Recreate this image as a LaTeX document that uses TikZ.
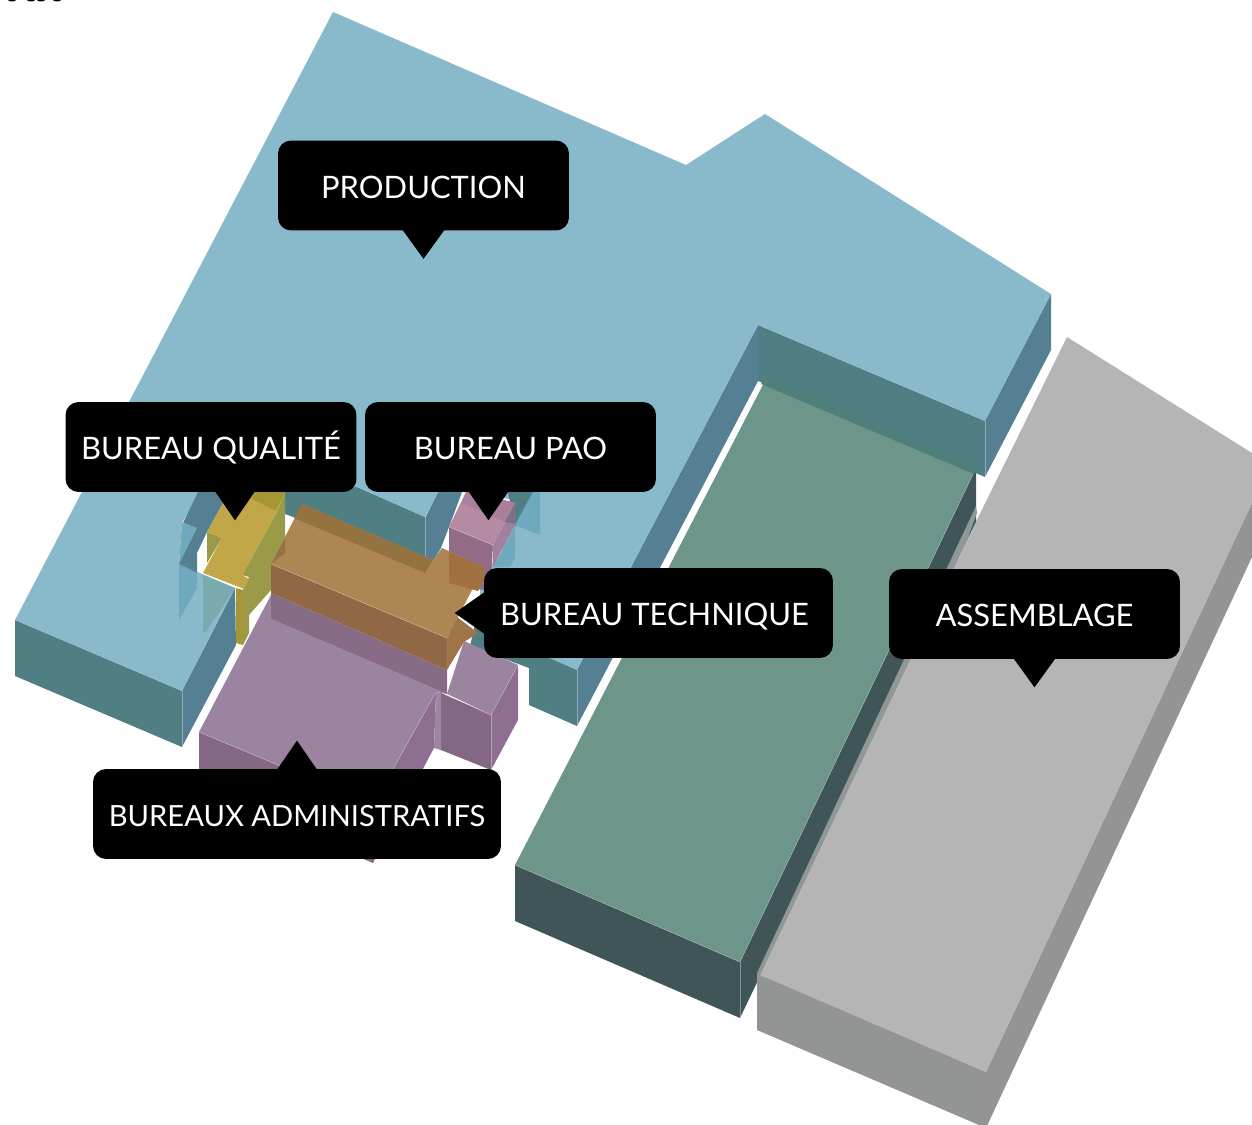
\documentclass[tikz,border=0pt]{standalone}
\usepackage{fontspec}
\setmainfont{Lato}
\usetikzlibrary{calc}
\definecolor{prodTop}{HTML}{89BACC}
\definecolor{prodFront}{HTML}{4F7F83}
\definecolor{prodSide}{HTML}{557F92}
\definecolor{prodGlass}{HTML}{6FA9BD}
\definecolor{prodMix}{HTML}{79ABAE}
\definecolor{assyTop}{HTML}{6D958A}
\definecolor{assyFront}{HTML}{3F5558}
\definecolor{assyBand}{HTML}{4F7F78}
\definecolor{greyTop}{HTML}{B5B5B5}
\definecolor{greyFront}{HTML}{939594}
\definecolor{greySide}{HTML}{949494}
\definecolor{greyBand}{HTML}{8F9896}
\definecolor{techTop}{HTML}{AE8654}
\definecolor{techFront}{HTML}{916845}
\definecolor{techSide}{HTML}{9E7548}
\definecolor{techDark}{HTML}{957340}
\definecolor{techOver}{HTML}{A07040}
\definecolor{adminTop}{HTML}{9A84A0}
\definecolor{adminFront}{HTML}{836783}
\definecolor{adminSide}{HTML}{8E6F92}
\definecolor{adminStrip}{HTML}{886B84}
\definecolor{paoTop}{HTML}{B58BA4}
\definecolor{paoBand}{HTML}{A97F9C}
\definecolor{paoFront}{HTML}{926C87}
\definecolor{paoSide}{HTML}{A37FA0}
\definecolor{paoDark}{HTML}{7E6E8A}
\definecolor{qualTop}{HTML}{C1A748}
\definecolor{qualDark}{HTML}{A69633}
\definecolor{qualSide}{HTML}{9A9A48}
\definecolor{qualFront}{HTML}{A89538}
\tikzset{
  callout/.style={
    fill=black, text=white, rounded corners=0.26cm, inner sep=0pt,
    minimum width=5.82cm, minimum height=1.8cm, align=center,
    text height=14.4pt, text depth=0pt,
    font=\fontsize{17.6}{20}\selectfont
  },
  pointer/.style={fill=black},
  ridge/.style={draw=white, draw opacity=0.35, line width=0.25pt},
}

\begin{document}
\begin{tikzpicture}[x=0.02cm, y=-0.02cm]
  \clip (0,0) rectangle (1252,1125);
  \foreach \x in {12,31,41,57}
    \fill[black] (\x,0) ellipse (4 and 1.5);

  % assemblage block
  \fill[assyFront] (515,865) -- (740,962) -- (740,1018) -- (515,921) -- cycle;
  \fill[assyFront] (740,962) -- (976,468) -- (976,524) -- (740,1018) -- cycle;
  \fill[assyTop] (515,865) -- (767,377) -- (976,468) -- (740,962) -- cycle;
  \draw[ridge] (740,962) -- (740,1018);
  \draw[ridge] (515,865) -- (740,962) -- (976,468);

  % grey block
  \fill[greyFront] (757,973) -- (986,1072) -- (986,1128) -- (757,1030) -- cycle;
  \fill[greySide] (986,1072) -- (1252,503) -- (1252,557) -- (986,1128) -- cycle;
  \fill[greyBand] (757,973) -- (976,506) -- (977,513) -- (967,540) -- (760,975) -- cycle;
  \fill[greyTop] (1067,337) -- (1252,453) -- (1252,503) -- (986,1072) -- (760,975) -- (967,540) -- cycle;

  % production slab
  \fill[prodFront] (15,620) -- (182,691) -- (182,747) -- (15,676) -- cycle;
  \fill[prodSide] (182,691) -- (235,588) -- (236,645) -- (182,747) -- cycle;
  \fill[prodFront] (758,325) -- (985,421) -- (985,477) -- (758,381) -- cycle;
  \fill[prodSide] (985,421) -- (1051,294) -- (1051,350) -- (985,477) -- cycle;
  \fill[prodSide] (758,325) -- (758,381) -- (577,726) -- (577,670) -- cycle;
  \fill[prodFront] (476,620) -- (577,670) -- (577,726) -- (529,705) -- (529,668) -- (470,646) -- cycle;
  \fill[prodFront] (285,490) -- (357,487) -- (425,517) -- (425,573) -- (293,517) -- (285,514) -- cycle;
  \fill[prodSide] (425,518) -- (438,492) -- (462,492) -- (449,527) -- (441,548) -- (425,573) -- cycle;
  \fill[prodTop] (333,12) -- (686,165) -- (765,114) -- (1051,294) -- (985,421) -- (758,325)
    -- (577,670) -- (480,628) -- (480,568) -- (500,560) -- (515,500) -- (463,492) -- (438,492)
    -- (425,517) -- (357,487) -- (285,490) -- (200,492) -- (182,523) -- (179,564) -- (235,588)
    -- (182,691) -- (15,620) -- cycle;
  \fill[assyBand] (767,377) -- (976,468) -- (974,474) -- (761,384) -- cycle;
  \draw[ridge] (182,691) -- (182,747);
  \draw[ridge] (985,421) -- (985,477);
  \draw[ridge] (577,670) -- (577,726);
  \draw[ridge] (425,517) -- (425,573);

  % courtyard glass
  \fill[prodGlass] (182,523) -- (197,528) -- (179,564) -- cycle;
  \fill[prodSide] (183,523) -- (198,492) -- (217,492) -- (223,503) -- (207,532) -- (197,553)
    -- (197,573) -- (179,564) -- (197,528) -- cycle;
  \fill[prodGlass] (179,564) -- (197,573) -- (197,588) -- (179,620) -- cycle;
  \fill[prodMix] (203,575) -- (235,588) -- (205,633) -- (203,632) -- cycle;
  \fill[prodFront] (508,492) -- (533,492) -- (515,527) -- cycle;
  \fill[prodGlass] (515,525) -- (540,535) -- (540,492) -- (533,492) -- cycle;
  \fill[prodGlass] (493,567) -- (515,527) -- (515,558) -- (510,567) -- cycle;

  % bureau qualite
  \fill[qualSide] (207,532) -- (222,538) -- (207,563) -- cycle;
  \fill[qualFront] (236,588) -- (243,590) -- (243,645) -- (236,643) -- cycle;
  \fill[qualSide] (277,512) -- (285,492) -- (285,537) -- (271,564) -- (271,590) -- (249,615)
    -- (249,633) -- (243,645) -- (243,590) -- (249,577) -- (242,575) -- cycle;
  \fill[qualTop] (207,532) -- (222,538) -- (203,573) -- (244,589) -- (249,579) -- (242,575)
    -- (277,512) -- (285,492) -- (235,492) -- (223,503) -- cycle;
  \fill[qualDark] (252,499) -- (276,511) -- (285,492) -- (255,492) -- cycle;

  % bureau pao
  \fill[paoFront] (449,527) -- (493,545) -- (492,570) -- (484,590) -- (449,584) -- cycle;
  \fill[paoSide] (493,545) -- (515,503) -- (515,525) -- (493,567) -- cycle;
  \fill[paoTop] (449,527) -- (493,545) -- (515,503) -- (467,490) -- cycle;
  \fill[paoBand] (462,503) -- (505,522) -- (515,503) -- (467,490) -- cycle;
  \fill[paoDark] (505,522) -- (515,503) -- (515,524) -- cycle;
  \draw[ridge] (449,527) -- (493,545) -- (492,570);

  % bureaux administratifs
  \fill[adminFront] (199,732) -- (373,805) -- (373,863) -- (199,790) -- cycle;
  \fill[adminSide] (373,805) -- (436,692) -- (434,748) -- (373,863) -- cycle;
  \fill[adminTop] (271,595) -- (199,732) -- (373,805) -- (436,692) -- (447,694) -- (271,619) -- cycle;
  \fill[adminStrip] (271,593) -- (447,670) -- (447,694) -- (271,619) -- cycle;
  \fill[adminFront] (441,693) -- (491,715) -- (491,770) -- (441,750) -- cycle;
  \fill[adminSide!85!white] (436,692) -- (441,693) -- (441,750) -- (434,748) -- cycle;
  \fill[adminSide] (491,715) -- (518,665) -- (518,720) -- (491,770) -- cycle;
  \fill[adminTop] (464,641) -- (518,665) -- (491,715) -- (447,694) -- cycle;
  \draw[ridge] (199,732) -- (373,805) -- (436,692);
  \draw[ridge] (447,694) -- (491,715) -- (518,665);
  \draw[ridge] (491,715) -- (491,770);

  % bureau technique
  \fill[techFront] (271,564) -- (447,638) -- (447,670) -- (271,593) -- cycle;
  \fill[techSide] (447,638) -- (457,617) -- (478,633) -- (464,642) -- (447,670) -- cycle;
  \fill[techTop] (302,504) -- (433,560) -- (442,548) -- (484,567) -- (447,638) -- (271,564) -- cycle;
  \fill[techDark] (302,504) -- (433,560) -- (425,573) -- (294,518) -- cycle;
  \fill[techOver] (449,552) -- (484,567) -- (484,580) -- (478,591) -- (449,583) -- cycle;
  \fill[techDark] (271,564) -- (285,538) -- (285,553) -- cycle;
  \draw[ridge] (271,564) -- (447,638) -- (447,670);

  % labels
  \node[callout] (production) at (423.5,185.5) {PRODUCTION};
  \node[callout] (qualite) at (211,447) {BUREAU QUALITÉ};
  \node[callout] (pao) at (510.5,447) {BUREAU PAO};
  \node[callout, minimum width=6.98cm] (technique) at (658.5,613) {BUREAU TECHNIQUE\hspace*{0.16cm}};
  \node[callout] (assemblage) at (1034.5,614) {ASSEMBLAGE};
  \node[callout, minimum width=8.16cm, font=\fontsize{16.6}{20}\selectfont] (admin) at (297,814) {BUREAUX ADMINISTRATIFS};

  \fill[pointer] ($(production.south)+(-21,-1)$) -- ($(production.south)+(0,28)$) -- ($(production.south)+(21,-1)$) -- cycle;
  \fill[pointer] ($(qualite.south)+(4,-1)$) -- ($(qualite.south)+(24,28)$) -- ($(qualite.south)+(44,-1)$) -- cycle;
  \fill[pointer] ($(pao.south)+(-42,-1)$) -- ($(pao.south)+(-22,28)$) -- ($(pao.south)+(-2,-1)$) -- cycle;
  \fill[pointer] ($(assemblage.south)+(-21,-1)$) -- ($(assemblage.south)+(0,28)$) -- ($(assemblage.south)+(21,-1)$) -- cycle;
  \fill[pointer] ($(admin.north)+(-20,1)$) -- ($(admin.north)+(0,-28)$) -- ($(admin.north)+(20,1)$) -- cycle;
  \fill[pointer] ($(technique.west)+(1,-21)$) -- ($(technique.west)+(-29,0)$) -- ($(technique.west)+(1,21)$) -- cycle;
\end{tikzpicture}
\end{document}
